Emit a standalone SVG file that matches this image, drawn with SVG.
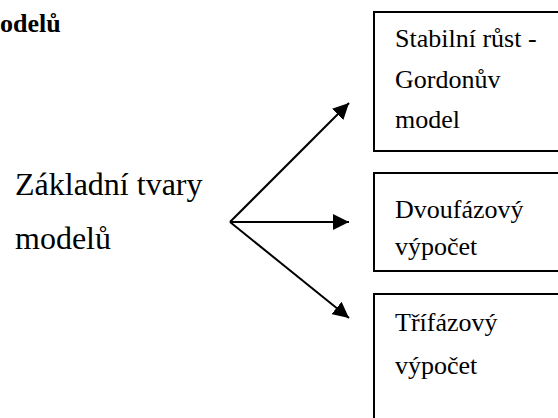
<svg xmlns="http://www.w3.org/2000/svg" width="558" height="418" viewBox="0 0 558 418">
  <style>
    .bg { fill: #ffffff; }
    .box { fill: #ffffff; stroke: #000000; stroke-width: 2; }
    .t { font-family: "Liberation Serif", "Times New Roman", serif; fill: #000000; }
    .boxtext { font-size: 26px; }
    .main { font-size: 32px; }
    .title { font-size: 26px; font-weight: bold; }
    .arrow { stroke: #000000; stroke-width: 2; fill: none; marker-end: url(#head); }
  </style>
  <defs>
    <marker id="head" markerUnits="userSpaceOnUse" markerWidth="18" markerHeight="16" refX="16" refY="8" orient="auto">
      <path d="M0,0 L16,8 L0,16 Z" fill="#000000"/>
    </marker>
  </defs>

  <rect class="bg" x="0" y="0" width="558" height="418"/>

  <text class="t title" x="0" y="32">odelů</text>

  <g id="root">
    <text class="t main" x="15" y="195">Základní tvary</text>
    <text class="t main" x="15" y="249">modelů</text>
  </g>

  <g id="gordon">
    <rect class="box" x="374" y="12" width="200" height="139"/>
    <text class="t boxtext" x="395" y="47">Stabilní růst -</text>
    <text class="t boxtext" x="395" y="88">Gordonův</text>
    <text class="t boxtext" x="395" y="128">model</text>
  </g>

  <g id="dvoufazovy">
    <rect class="box" x="374" y="173" width="200" height="98"/>
    <text class="t boxtext" x="395" y="218">Dvoufázový</text>
    <text class="t boxtext" x="395" y="255">výpočet</text>
  </g>

  <g id="trifazovy">
    <rect class="box" x="374" y="294" width="200" height="140"/>
    <text class="t boxtext" x="395" y="331">Třífázový</text>
    <text class="t boxtext" x="395" y="374">výpočet</text>
  </g>

  <g id="connectors">
    <line class="arrow" x1="230" y1="222" x2="349" y2="103"/>
    <line class="arrow" x1="230" y1="222" x2="349" y2="222"/>
    <line class="arrow" x1="230" y1="222" x2="349" y2="318"/>
  </g>
</svg>
